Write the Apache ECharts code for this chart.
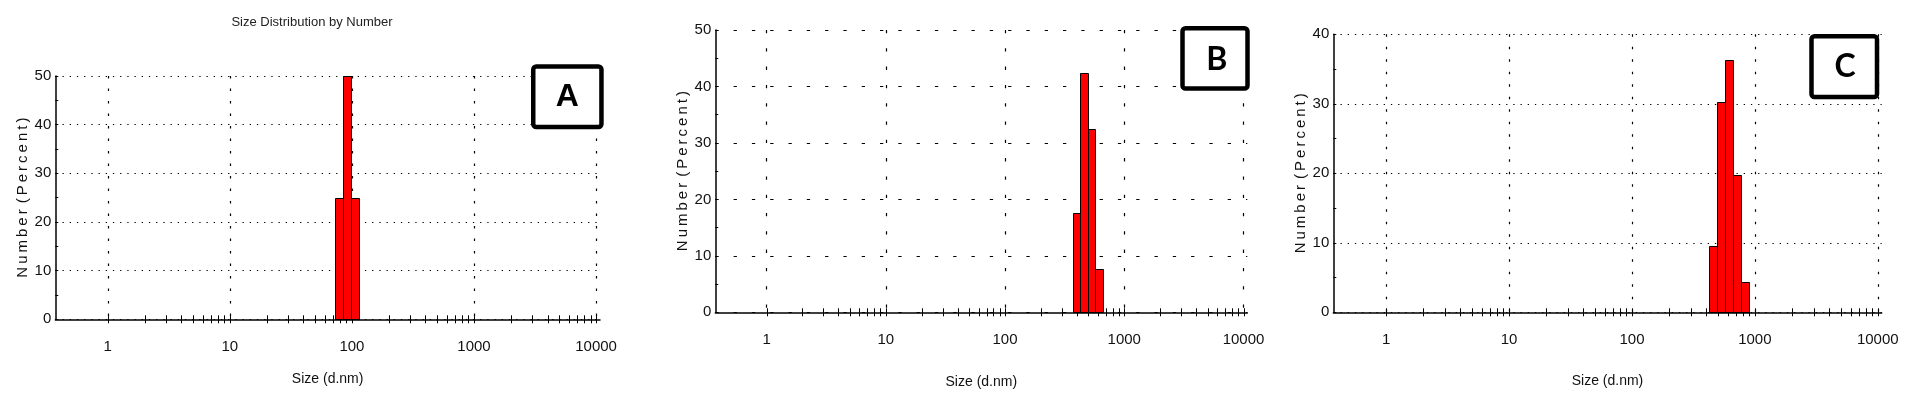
<!DOCTYPE html>
<html><head><meta charset="utf-8">
<script src="https://cdn.jsdelivr.net/npm/echarts@6/dist/echarts.min.js"></script>
<style>html,body{margin:0;padding:0;background:#fff}#c{width:1922px;height:411px}</style>
</head><body><div id="c"></div>
<script>
// ---- data ----
const sizesA = [78.82, 91.28, 105.7];
const numberA = [25, 50, 25];
const sizesB = [396.1, 458.7, 531.2, 615.1];
const numberB = [17.5, 42.4, 32.5, 7.6];
const sizesC = [458.7, 531.2, 615.1, 712.4, 825.0];
const numberC = [9.5, 30.2, 36.3, 19.8, 4.3];
const panelLetters = ['A', 'B', 'C'];
const yMaxes = [50, 50, 40];
const xDecades = [1, 10, 100, 1000, 10000];
const xTickLabels = ['1', '10', '100', '1000', '10000'];
const xMinorSteps = [2, 3, 4, 5, 6, 7, 8, 9];
const titleText = 'Size Distribution by Number';
const xName = 'Size (d.nm)';
const yName = 'N\u2009u\u2009m\u2009b\u2009e\u2009r\u2009\u2009(\u2009P\u2009e\u2009r\u2009c\u2009e\u2009n\u2009t\u2009)';

// Malvern size classes: 70 classes, 0.4 .. 10000 nm (log spaced)
const BIN_RATIO = Math.pow(10000 / 0.4, 1 / 69);
const HALF = Math.sqrt(BIN_RATIO);
const X_MIN = 0.4 / HALF, X_MAX = 10000 * HALF;

const allTicks = [];
xDecades.forEach(d => { allTicks.push(d); if (d < 10000) xMinorSteps.forEach(m => allTicks.push(d * m)); });

const panels = [
  { sizes: sizesA, vals: numberA, grid: { left: 55.3, top: 76, width: 544.7, height: 243.3 },
    vDash: [2.5, 10], hDash: [1.3, 5.9], xGap: 53, yGap: 25 },
  { sizes: sizesB, vals: numberB, grid: { left: 715.3, top: 30, width: 532, height: 282.3 },
    vDash: [3.3, 15], hDash: [3.3, 15], xGap: 63, yGap: 24 },
  { sizes: sizesC, vals: numberC, grid: { left: 1333.3, top: 34.3, width: 548.4, height: 278 },
    vDash: [2.5, 10], hDash: [1.3, 5.9], xGap: 62, yGap: 25 }
];
const boxes = [
  { x: 533.25, y: 66.55, w: 68.2, h: 60.5, cx: 567.3, cy: 96.7, font: 'Liberation Sans' },
  { x: 1182.5, y: 28.25, w: 65, h: 60.2, cx: 1216.7, cy: 59.5, font: 'Lato' },
  { x: 1811.5, y: 36.25, w: 65.5, h: 60.8, cx: 1845, cy: 66.7, font: 'Lato' }
];

const FONT = 'Liberation Sans';
const TXT = '#111';

function xLabel(v) {
  for (let i = 0; i < xDecades.length; i++) {
    if (Math.abs(v - xDecades[i]) / xDecades[i] < 1e-6) return xTickLabels[i];
  }
  return '';
}

function barRender(params, api) {
  const s = api.value(0), v = api.value(1);
  const p1 = api.coord([s / HALF, v]);
  const p2 = api.coord([s * HALF, 0]);
  const x1 = Math.round(p1[0]) + 0.5, x2 = Math.round(p2[0]) + 0.5;
  const y1 = Math.round(p1[1]) + 0.5, y2 = Math.round(p2[1]) + 0.5;
  return { type: 'rect', shape: { x: x1, y: y1, width: x2 - x1, height: y2 - y1 },
    style: { fill: '#ff0000', stroke: '#000', lineWidth: 1 } };
}
function tickRender(params, api) {
  const p = api.coord([api.value(0), 0]);
  const x = Math.round(p[0]) + 0.5;
  return { type: 'line', shape: { x1: x, y1: p[1] - 4, x2: x, y2: p[1] + 4 },
    style: { stroke: '#000', lineWidth: 1 } };
}

const option = {
  animation: false,
  backgroundColor: '#fff',
  grid: [], xAxis: [], yAxis: [], series: [],
  graphic: []
};

panels.forEach((p, i) => {
  option.grid.push(Object.assign({ containLabel: false }, p.grid));
  option.xAxis.push({
    gridIndex: i, type: 'log', logBase: 10, min: X_MIN, max: X_MAX,
    axisLine: { show: true, onZero: false, lineStyle: { color: '#000', width: 1.5 } },
    axisTick: { show: false },
    axisLabel: { formatter: xLabel, color: TXT, fontSize: 15, fontFamily: FONT, margin: 20,
      showMinLabel: true, showMaxLabel: true, hideOverlap: false },
    splitLine: { show: true, showMinLine: false, showMaxLine: false,
      lineStyle: { color: '#000', width: 1.2, type: p.vDash } },
    name: xName, nameLocation: 'middle', nameGap: p.xGap,
    nameTextStyle: { color: TXT, fontSize: 14, fontFamily: FONT }
  });
  option.yAxis.push({
    gridIndex: i, type: 'value', min: 0, max: yMaxes[i], interval: 10,
    axisLine: { show: true, lineStyle: { color: '#000', width: 1.5 } },
    axisTick: { show: true, inside: true, length: 3, lineStyle: { color: '#000', width: 1 } },
    minorTick: { show: true, splitNumber: 2, length: 3, lineStyle: { color: '#000', width: 1 } },
    minorSplitLine: { show: false },
    axisLabel: { color: TXT, fontSize: 15, fontFamily: FONT, margin: 4 },
    splitLine: { show: true, lineStyle: { color: '#000', width: 1.2, type: p.hDash } },
    name: yName, nameLocation: 'middle', nameGap: p.yGap,
    nameTextStyle: { color: TXT, fontSize: 15, fontFamily: FONT }
  });
  option.series.push({
    type: 'custom', name: 'ticks' + i, xAxisIndex: i, yAxisIndex: i, z: 1, clip: false,
    silent: true, renderItem: tickRender, encode: { x: 0, y: 1 },
    data: allTicks.map(v => [v, 0])
  });
  option.series.push({
    type: 'custom', name: 'Number ' + panelLetters[i], xAxisIndex: i, yAxisIndex: i, z: 3,
    clip: false, renderItem: barRender, encode: { x: 0, y: 1 },
    data: p.sizes.map((s, k) => [s, p.vals[k]])
  });
  const b = boxes[i];
  option.graphic.push({
    type: 'rect', z: 100, shape: { x: b.x, y: b.y, width: b.w, height: b.h, r: 3 },
    style: { fill: '#fff', stroke: '#000', lineWidth: 4.5 }
  });
  option.graphic.push({
    type: 'text', z: 101, x: b.cx, y: b.cy,
    style: { text: panelLetters[i], fill: '#000', font: 'bold 32px "' + b.font + '"',
      align: 'center', verticalAlign: 'middle', textAlign: 'center', textVerticalAlign: 'middle' }
  });
});

option.graphic.push({
  type: 'text', z: 100, x: 312, y: 22,
  style: { text: titleText, fill: '#222', font: '13px "' + FONT + '"',
    align: 'center', verticalAlign: 'middle', textAlign: 'center', textVerticalAlign: 'middle' }
});

const chart = echarts.init(document.getElementById('c'), null, { renderer: 'canvas', width: 1922, height: 411 });
chart.setOption(option);
</script>
</body></html>
